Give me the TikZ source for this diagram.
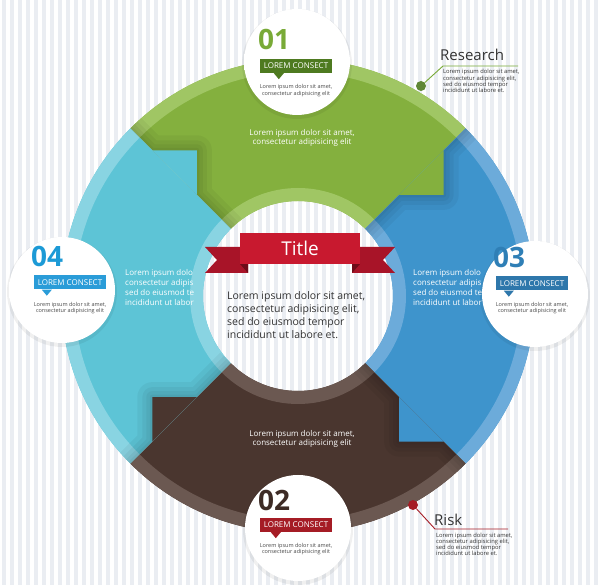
\documentclass[tikz,border=0pt]{standalone}
\usepackage{fontspec}
\setmainfont{Open Sans}
\usetikzlibrary{calc}
\definecolor{stripecol}{HTML}{EAEDF2}
\definecolor{greenbase}{HTML}{84B03E}
\definecolor{greenrim}{HTML}{A0C664}
\definecolor{greendark}{HTML}{4E7A20}
\definecolor{greennum}{HTML}{79AA37}
\definecolor{bluebase}{HTML}{3E94CC}
\definecolor{bluerim}{HTML}{6CABDA}
\definecolor{bluedark}{HTML}{2E77AB}
\definecolor{bluenum}{HTML}{2F7FB6}
\definecolor{tealbase}{HTML}{5DC4D6}
\definecolor{tealrim}{HTML}{89D4E2}
\definecolor{tealdark}{HTML}{2A9CD8}
\definecolor{tealnum}{HTML}{1C9AD6}
\definecolor{brownbase}{HTML}{4A362F}
\definecolor{brownrim}{HTML}{6B5851}
\definecolor{brownnum}{HTML}{3D2B25}
\definecolor{redtag}{HTML}{A51C25}
\definecolor{ribbon}{HTML}{C8192F}
\definecolor{ribbontail}{HTML}{A81428}
\definecolor{ribbonfold}{HTML}{6E0C18}
\definecolor{textgray}{HTML}{4A4A4A}
\definecolor{headgray}{HTML}{333333}
\pgfdeclareradialshading{discshade}{\pgfpoint{0bp}{0bp}}{color(0bp)=(white); color(36bp)=(white); color(50bp)=(gray!22)}
\newcommand{\outerR}{237}
\newcommand{\rimR}{224}
\newcommand{\holeR}{95}
\newcommand{\innerrimR}{108}
\newcommand{\stepin}{143}
\newcommand{\stepout}{206}
\newcommand{\ringpart}[5]{\fill[#1] (#2:#5) arc[start angle=#2, end angle=#3, radius=#5pt] -- (#3:#4) arc[start angle=#3, end angle=#2, radius=#4pt] -- cycle;}
\newcommand{\ringclip}[2]{\clip (#1:\outerR) arc[start angle=#1, end angle=#2, radius=\outerR pt] -- (#2:\holeR) arc[start angle=#2, end angle=#1, radius=\holeR pt] -- cycle;}
\tikzset{
  numlabel/.style={font=\fontsize{28}{28}\selectfont\bfseries, anchor=west, inner sep=0},
  tagbox/.style={font=\fontsize{8}{8}\selectfont, text=white, minimum width=72pt, minimum height=14pt, inner sep=0},
  circtext/.style={font=\fontsize{5.5}{6.5}\selectfont, text=textgray, align=center, inner sep=0},
  segtext/.style={font=\fontsize{8}{9.8}\selectfont, text=white, inner sep=0},
  sidehead/.style={font=\fontsize{15}{15}\selectfont, text=headgray, anchor=west, inner sep=0},
  sidetext/.style={font=\fontsize{5.8}{6.2}\selectfont, text=headgray, align=left, anchor=west, inner sep=0},
  shadowline/.style={black, opacity=.045, line join=round}
}
\begin{document}
\begin{tikzpicture}[x=1pt,y=1pt]
\useasboundingbox (0,0) rectangle (600,585);
\fill[white] (0,0) rectangle (600,585);
\foreach \x in {2,10,...,598} \fill[stripecol] (\x,0) rectangle (\x+3.5,585);
% ring
\begin{scope}[shift={(298,289)}]
\ringpart{greenbase}{45}{135}{\holeR}{\outerR}
\ringpart{bluebase}{-45}{45}{\holeR}{\outerR}
\ringpart{brownbase}{225}{315}{\holeR}{\outerR}
\ringpart{tealbase}{135}{225}{\holeR}{\outerR}
\ringpart{greenrim}{45}{135}{\rimR}{\outerR}
\ringpart{bluerim}{-45}{45}{\rimR}{\outerR}
\ringpart{brownrim}{225}{315}{\rimR}{\outerR}
\ringpart{tealrim}{135}{225}{\rimR}{\outerR}
\ringpart{greenrim}{45}{135}{\holeR}{\innerrimR}
\ringpart{bluerim}{-45}{45}{\holeR}{\innerrimR}
\ringpart{brownrim}{225}{315}{\holeR}{\innerrimR}
\ringpart{tealrim}{135}{225}{\holeR}{\innerrimR}
\coordinate (ulA) at (135:\stepin); \coordinate (ulB) at (135:\stepout);
\coordinate (urA) at (45:\stepin);  \coordinate (urB) at (45:\stepout);
\coordinate (llA) at (225:\stepin); \coordinate (llB) at (225:\stepout);
\coordinate (lrA) at (315:\stepin); \coordinate (lrB) at (315:\stepout);
% shadows
\begin{scope}
\ringclip{45}{135}
\draw[shadowline, line width=30pt] (135:\outerR) -- (ulB) -- (ulA |- ulB) -- (ulA) -- (135:\holeR);
\draw[shadowline, line width=20pt] (135:\outerR) -- (ulB) -- (ulA |- ulB) -- (ulA) -- (135:\holeR);
\draw[shadowline, line width=12pt] (135:\outerR) -- (ulB) -- (ulA |- ulB) -- (ulA) -- (135:\holeR);
\draw[shadowline, line width=5pt] (135:\outerR) -- (ulB) -- (ulA |- ulB) -- (ulA) -- (135:\holeR);
\end{scope}
\begin{scope}
\ringclip{-45}{45}
\draw[shadowline, line width=30pt] (45:\outerR) -- (urB) -- (urB |- urA) -- (urA) -- (45:\holeR);
\draw[shadowline, line width=20pt] (45:\outerR) -- (urB) -- (urB |- urA) -- (urA) -- (45:\holeR);
\draw[shadowline, line width=12pt] (45:\outerR) -- (urB) -- (urB |- urA) -- (urA) -- (45:\holeR);
\draw[shadowline, line width=5pt] (45:\outerR) -- (urB) -- (urB |- urA) -- (urA) -- (45:\holeR);
\end{scope}
\begin{scope}
\ringclip{135}{225}
\draw[shadowline, line width=30pt] (225:\outerR) -- (llB) -- (llB |- llA) -- (llA) -- (225:\holeR);
\draw[shadowline, line width=20pt] (225:\outerR) -- (llB) -- (llB |- llA) -- (llA) -- (225:\holeR);
\draw[shadowline, line width=12pt] (225:\outerR) -- (llB) -- (llB |- llA) -- (llA) -- (225:\holeR);
\draw[shadowline, line width=5pt] (225:\outerR) -- (llB) -- (llB |- llA) -- (llA) -- (225:\holeR);
\end{scope}
\begin{scope}
\ringclip{225}{315}
\draw[shadowline, line width=30pt] (315:\outerR) -- (lrB) -- (lrA |- lrB) -- (lrA) -- (315:\holeR);
\draw[shadowline, line width=20pt] (315:\outerR) -- (lrB) -- (lrA |- lrB) -- (lrA) -- (315:\holeR);
\draw[shadowline, line width=12pt] (315:\outerR) -- (lrB) -- (lrA |- lrB) -- (lrA) -- (315:\holeR);
\draw[shadowline, line width=5pt] (315:\outerR) -- (lrB) -- (lrA |- lrB) -- (lrA) -- (315:\holeR);
\end{scope}
% arrow heads
\fill[tealbase] (ulB) -- (ulA |- ulB) -- (ulA) -- cycle;
\fill[greenbase] (urB) -- (urB |- urA) -- (urA) -- cycle;
\fill[brownbase] (llB) -- (llB |- llA) -- (llA) -- cycle;
\fill[bluebase] (lrB) -- (lrA |- lrB) -- (lrA) -- cycle;
\end{scope}
% segment texts
\node[segtext, align=center] (greentext) at (302,447) {Lorem ipsum dolor sit amet,\\consectetur adipisicing elit};
\node[segtext, align=center] (browntext) at (302,146) {Lorem ipsum dolor sit amet,\\consectetur adipisicing elit};
\node[segtext, align=left, anchor=west] (tealtext) at (125,297.5) {Lorem ipsum dolo\\consectetur adipis\\sed do eiusmod te\\incididunt ut labor};
\node[segtext, align=left, anchor=west] (bluetext) at (413,297.5) {Lorem ipsum dolo\\consectetur adipis\\sed do eiusmod te\\incididunt ut labor};
% circles
\coordinate (c01) at (297,523);
\coordinate (c04) at (62,295);
\coordinate (c03) at (535,291);
\coordinate (c02) at (298,57);
\fill[black, opacity=.06] ($(c01)+(0,-2)$) circle[radius=55pt];
\fill[black, opacity=.06] ($(c04)+(0,-2)$) circle[radius=55pt];
\fill[black, opacity=.06] ($(c03)+(0,-2)$) circle[radius=55pt];
\fill[black, opacity=.06] ($(c02)+(0,-2)$) circle[radius=55pt];
\shade[shading=discshade] (c01) circle[radius=53pt];
\shade[shading=discshade] (c04) circle[radius=53pt];
\shade[shading=discshade] (c03) circle[radius=53pt];
\shade[shading=discshade] (c02) circle[radius=53pt];
% 01
\node[numlabel, text=greennum] (num01) at (258,546) {01};
\node[tagbox, fill=greendark] (tag01) at (296,519) {LOREM CONSECT};
\fill[greendark] ($(tag01.south west)+(14,0)$) -- ($(tag01.south west)+(24,0)$) -- ($(tag01.south west)+(19,-6)$) -- cycle;
\node[circtext] (txt01) at (296,494.5) {Lorem ipsum dolor sit amet,\\consectetur adipisicing elit};
% 04
\node[numlabel, text=tealnum] (num04) at (31,329) {04};
\node[tagbox, fill=tealdark] (tag04) at (70,302.5) {LOREM CONSECT};
\fill[tealdark] ($(tag04.south west)+(8,0)$) -- ($(tag04.south west)+(18,0)$) -- ($(tag04.south west)+(13,-6)$) -- cycle;
\node[circtext] (txt04) at (70,277) {Lorem ipsum dolor sit amet,\\consectetur adipisicing elit};
% 03
\node[numlabel, text=bluenum] (num03) at (493,328) {03};
\node[tagbox, fill=bluedark] (tag03) at (532,301.5) {LOREM CONSECT};
\fill[bluedark] ($(tag03.south west)+(8,0)$) -- ($(tag03.south west)+(18,0)$) -- ($(tag03.south west)+(13,-6)$) -- cycle;
\node[circtext] (txt03) at (532,277) {Lorem ipsum dolor sit amet,\\consectetur adipisicing elit};
% 02
\node[numlabel, text=brownnum] (num02) at (258,85) {02};
\node[tagbox, fill=redtag] (tag02) at (296,60) {LOREM CONSECT};
\fill[redtag] ($(tag02.south west)+(11,0)$) -- ($(tag02.south west)+(21,0)$) -- ($(tag02.south west)+(16,-6)$) -- cycle;
\node[circtext] (txt02) at (296,36) {Lorem ipsum dolor sit amet,\\consectetur adipisicing elit};
% title ribbon
\fill[ribbontail] (205,338) -- (248,338) -- (248,312) -- (205,312) -- (217,325) -- cycle;
\fill[ribbontail] (395,338) -- (352,338) -- (352,312) -- (395,312) -- (383,325) -- cycle;
\fill[ribbonfold] (240,321) -- (248,321) -- (248,312) -- cycle;
\fill[ribbonfold] (360,321) -- (352,321) -- (352,312) -- cycle;
\fill[ribbon] (240,321) rectangle (360,352);
\node[font=\fontsize{19}{19}\selectfont, text=white, inner sep=0] (title) at (300,337) {Title};
\node[font=\fontsize{10.5}{13}\selectfont, text=headgray, align=left, anchor=west, inner sep=0] (centertext) at (227,269.5) {Lorem ipsum dolor sit amet,\\consectetur adipisicing elit,\\sed do eiusmod tempor\\incididunt ut labore et.};
% research
\node[circle, fill=greendark!90, minimum size=10pt, inner sep=0] (resdot) at (421,499) {};
\coordinate (reskink) at (443,519);
\coordinate (resend) at (518,519);
\draw[greennum, line width=0.9pt] (resdot) -- (reskink) -- (resend);
\node[sidehead] (research) at (440,530) {Research};
\node[sidetext] (restext) at (443,504) {Lorem ipsum dolor sit amet,\\consectetur adipisicing elit,\\sed do eiusmod tempor\\incididunt ut labore et.};
% risk
\node[circle, fill=redtag, minimum size=10pt, inner sep=0] (riskdot) at (413,80) {};
\coordinate (riskkink) at (435,56);
\coordinate (riskend) at (508,56);
\draw[redtag, line width=0.9pt] (riskdot) -- (riskkink) -- (riskend);
\node[sidehead] (risk) at (434,65) {Risk};
\node[sidetext] (risktext) at (436,40.5) {Lorem ipsum dolor sit amet,\\consectetur adipisicing elit,\\sed do eiusmod tempor\\incididunt ut labore et.};
\end{tikzpicture}
\end{document}
